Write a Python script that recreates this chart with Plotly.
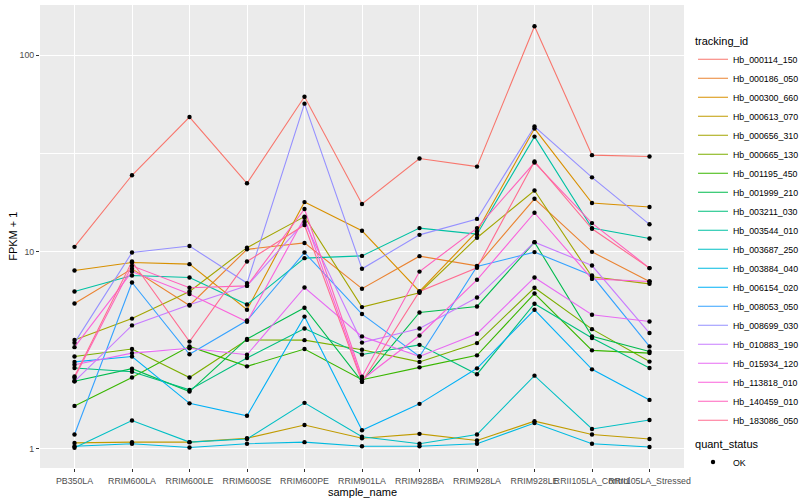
import plotly.graph_objects as go

samples = ["PB350LA", "RRIM600LA", "RRIM600LE", "RRIM600SE", "RRIM600PE", "RRIM901LA",
           "RRIM928BA", "RRIM928LA", "RRIM928LE", "RRII105LA_Control", "RRII105LA_Stressed"]

tracking_ids = ["Hb_000114_150", "Hb_000186_050", "Hb_000300_660", "Hb_000613_070", "Hb_000656_310",
                "Hb_000665_130", "Hb_001195_450", "Hb_001999_210", "Hb_003211_030", "Hb_003544_010",
                "Hb_003687_250", "Hb_003884_040", "Hb_006154_020", "Hb_008053_050", "Hb_008699_030",
                "Hb_010883_190", "Hb_015934_120", "Hb_113818_010", "Hb_140459_010", "Hb_183086_050"]

colors = ["#F8766D", "#EA8331", "#D89000", "#C09B00", "#A3A500", "#7CAE00", "#39B600", "#00BB4E",
          "#00BF7D", "#00C1A3", "#00BFC4", "#00BAE0", "#00B0F6", "#35A2FF", "#9590FF", "#C77CFF",
          "#E76BF3", "#FA62DB", "#FF62BC", "#FF6C91"]

# FPKM + 1 values, one list per tracking_id, in sample order
hb_000114_150 = [10.6, 24.5, 48.4, 22.3, 61.4, 17.5, 29.8, 27.1, 139.9, 31.0, 30.5]
hb_000186_050 = [5.47, 8.20, 5.34, 10.3, 11.1, 6.5, 9.51, 8.49, 18.6, 10.0, 7.07]
hb_000300_660 = [8.04, 8.83, 8.66, 5.08, 17.9, 12.8, 6.29, 12.7, 42.3, 17.7, 16.9]
hb_000613_070 = [1.07, 1.08, 1.08, 1.13, 1.32, 1.13, 1.19, 1.10, 1.38, 1.18, 1.12]
hb_000656_310 = [3.57, 4.58, 6.29, 10.5, 15.1, 5.24, 6.2, 11.8, 20.5, 7.47, 6.88]
hb_000665_130 = [2.94, 3.21, 2.30, 3.57, 3.56, 3.18, 2.76, 3.44, 6.57, 4.05, 2.77]
hb_001195_450 = [1.65, 2.30, 3.31, 2.62, 3.21, 2.24, 2.59, 2.98, 6.14, 3.16, 3.06]
hb_001999_210 = [2.20, 2.55, 1.95, 3.61, 5.20, 2.19, 4.92, 5.28, 11.2, 3.72, 3.12]
hb_003211_030 = [2.57, 2.46, 1.99, 2.89, 4.08, 3.01, 3.37, 2.39, 5.45, 3.65, 2.57]
hb_003544_010 = [6.29, 7.58, 7.41, 5.40, 9.29, 9.54, 13.2, 12.3, 38.5, 13.2, 11.7]
hb_003687_250 = [1.01, 1.39, 1.08, 1.12, 1.71, 1.15, 1.06, 1.18, 2.35, 1.26, 1.40]
hb_003884_040 = [1.03, 1.06, 1.015, 1.06, 1.08, 1.03, 1.03, 1.06, 1.35, 1.06, 1.02]
hb_006154_020 = [2.76, 2.94, 1.70, 1.47, 4.69, 1.24, 1.69, 2.56, 5.08, 2.53, 1.77]
hb_008053_050 = [1.18, 6.99, 3.02, 4.48, 9.92, 4.83, 2.94, 8.42, 9.97, 7.58, 3.31]
hb_008699_030 = [3.45, 9.92, 10.7, 6.94, 56.6, 8.20, 12.2, 14.7, 43.3, 23.9, 13.8]
hb_010883_190 = [2.20, 4.23, 5.38, 6.72, 14.2, 3.46, 4.08, 5.86, 11.2, 8.52, 3.87]
hb_015934_120 = [2.67, 3.06, 3.24, 3.00, 6.59, 3.72, 2.94, 3.84, 7.41, 4.79, 4.43]
hb_113818_010 = [3.28, 7.94, 6.10, 4.41, 14.9, 2.24, 3.76, 7.21, 15.8, 7.29, 7.07]
hb_140459_010 = [2.29, 8.49, 6.57, 6.72, 16.5, 2.32, 7.94, 13.2, 28.4, 14.0, 8.27]
hb_183086_050 = [2.33, 8.93, 3.50, 8.93, 13.7, 2.19, 6.29, 8.30, 28.8, 13.1, 8.27]

series_values = [hb_000114_150, hb_000186_050, hb_000300_660, hb_000613_070, hb_000656_310,
                 hb_000665_130, hb_001195_450, hb_001999_210, hb_003211_030, hb_003544_010,
                 hb_003687_250, hb_003884_040, hb_006154_020, hb_008053_050, hb_008699_030,
                 hb_010883_190, hb_015934_120, hb_113818_010, hb_140459_010, hb_183086_050]

quant_status = "OK"

FONT = "Liberation Sans, Arial, Helvetica, sans-serif"

fig = go.Figure()
for name, vals, col in zip(tracking_ids, series_values, colors):
    fig.add_trace(go.Scatter(x=samples, y=vals, mode="lines", name=name,
                             line=dict(color=col, width=1.1), legend="legend"))

all_x = [s for vals in series_values for s in samples]
all_y = [v for vals in series_values for v in vals]
fig.add_trace(go.Scatter(x=all_x, y=all_y, mode="markers", name=quant_status,
                         marker=dict(color="black", size=4.4), legend="legend2"))

axis_common = dict(showgrid=True, gridcolor="white", gridwidth=1.2, zeroline=False, showline=False,
                   ticks="outside", ticklen=3, tickcolor="#333333", tickwidth=1,
                   tickfont=dict(family=FONT, size=8.8, color="#4D4D4D"))

fig.update_layout(
    width=800, height=500,
    margin=dict(l=40, r=116, t=5, b=32, autoexpand=False),
    paper_bgcolor="white", plot_bgcolor="#EBEBEB",
    font=dict(family=FONT, size=9, color="black"),
    xaxis=dict(type="category", categoryorder="array", categoryarray=samples,
               range=[-0.6, 10.6], tickangle=0, ticklabelstandoff=1, **axis_common),
    yaxis=dict(type="log", range=[-0.098, 2.254], tickmode="array", tickvals=[1, 10, 100],
               ticktext=["1", "10", "100"],
               minor=dict(tickmode="array", tickvals=[10 ** 0.5, 10 ** 1.5], showgrid=True,
                          gridcolor="white", gridwidth=0.6, ticks=""),
               **axis_common),
    legend=dict(title=dict(text="tracking_id", font=dict(family=FONT, size=11)),
                x=1.014, xanchor="left", y=0.945, yanchor="top", itemwidth=30,
                font=dict(family=FONT, size=8.8), tracegroupgap=0, bgcolor="rgba(0,0,0,0)"),
    legend2=dict(title=dict(text="quant_status", font=dict(family=FONT, size=11)),
                 x=1.014, xanchor="left", y=0.075, yanchor="top", itemwidth=30,
                 font=dict(family=FONT, size=8.8), bgcolor="rgba(0,0,0,0)"),
    annotations=[
        dict(text="sample_name", xref="paper", yref="paper", x=0.5, y=-0.051,
             xanchor="center", yanchor="middle", showarrow=False,
             font=dict(family=FONT, size=11, color="black")),
        dict(text="FPKM + 1", xref="paper", yref="paper", x=-0.043, y=0.5, textangle=-90,
             xanchor="center", yanchor="middle", showarrow=False,
             font=dict(family=FONT, size=11, color="black")),
    ],
)

fig.write_html("out.html", config={"displayModeBar": False},
               post_script="document.body.style.margin='0';")
